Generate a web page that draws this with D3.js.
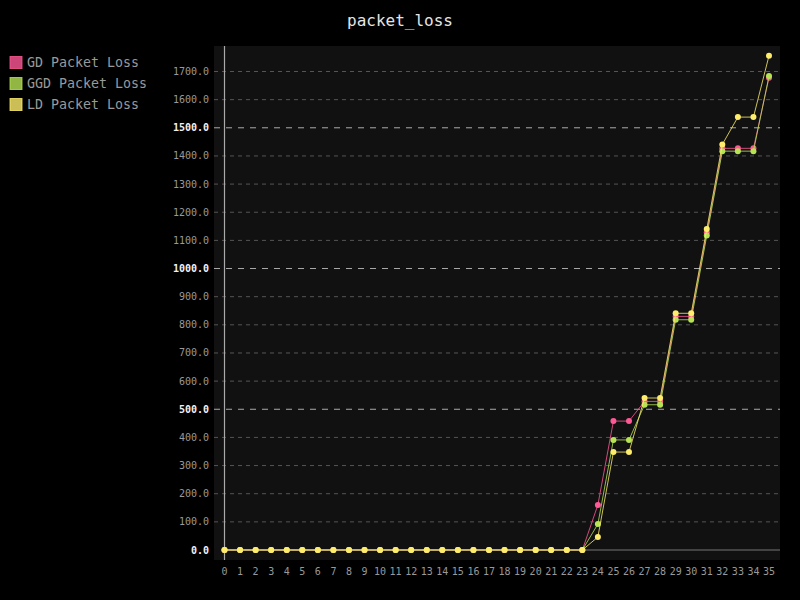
<!DOCTYPE html>
<html><head><meta charset="utf-8">
<script src="https://cdn.jsdelivr.net/npm/d3@7"></script>
<style>
html,body{margin:0;padding:0;background:#000;}
svg{display:block;}
text{font-family:"DejaVu Sans Mono",monospace;}
</style></head>
<body><svg id="c" width="800" height="600"></svg>
<script>
const title = "packet_loss";
const xLabels = d3.range(0, 36).map(String);
const seriesNames = ["GD Packet Loss", "GGD Packet Loss", "LD Packet Loss"];
const colors = ["#ff5995", "#b6e354", "#feed6c"];
const gd  = [0,0,0,0,0,0,0,0,0,0,0,0,0,0,0,0,0,0,0,0,0,0,0,0,160,458,458,528,528,830,830,1128,1427,1427,1427,1678];
const ggd = [0,0,0,0,0,0,0,0,0,0,0,0,0,0,0,0,0,0,0,0,0,0,0,0,92,391,391,516,516,818,818,1117,1417,1417,1417,1684];
const ld  = [0,0,0,0,0,0,0,0,0,0,0,0,0,0,0,0,0,0,0,0,0,0,0,0,46,348,348,540,540,841,841,1140,1441,1538,1538,1756];
const yTicks = d3.range(0, 1800, 100);
const majorTicks = [0, 500, 1000, 1500];
const series = [gd, ggd, ld];

const svg = d3.select("#c");
svg.append("rect").attr("width",800).attr("height",600).attr("fill","#000");
const plot = {l:214, t:46, r:780, b:560};
svg.append("rect").attr("x",plot.l).attr("y",plot.t).attr("width",plot.r-plot.l).attr("height",plot.b-plot.t).attr("fill","#111");

const x = d3.scaleLinear().domain([0,35]).range([224.5, 769]);
const y = d3.scaleLinear().domain([0,1700]).range([550, 71.5]);

svg.append("text").attr("x",400).attr("y",26).attr("text-anchor","middle")
  .attr("font-size",16).attr("fill","#e5e5e5").text(title);

// y guides
const yg = svg.append("g");
yTicks.forEach(t => {
  const major = majorTicks.includes(t);
  if (t !== 0) {
    yg.append("line").attr("x1",plot.l).attr("x2",plot.r).attr("y1",y(t)).attr("y2",y(t))
      .attr("stroke", major ? "#aaa" : "#555")
      .attr("stroke-dasharray", major ? "6,6" : "4,4").attr("stroke-width",1);
  }
  yg.append("text").attr("x",209).attr("y",y(t)+3.5).attr("text-anchor","end")
    .attr("font-size",10).attr("fill", major ? "#f0f0f0" : "#999")
    .attr("font-weight", major ? "bold" : "normal").text(d3.format(".1f")(t));
});
// axes
svg.append("line").attr("x1",x(0)).attr("x2",plot.r).attr("y1",y(0)).attr("y2",y(0)).attr("stroke","#777").attr("stroke-width",1.2);
svg.append("line").attr("x1",x(0)).attr("x2",x(0)).attr("y1",plot.t).attr("y2",plot.b).attr("stroke","#aaa").attr("stroke-width",1.2);

// x labels
xLabels.forEach((lab,i) => {
  svg.append("text").attr("x",x(i)).attr("y",575).attr("text-anchor","middle")
    .attr("font-size",10).attr("fill","#999").text(lab);
});

// series
const line = d3.line().x((d,i)=>x(i)).y(d=>y(d));
series.forEach((s,k) => {
  const g = svg.append("g");
  g.append("path").datum(s).attr("d",line).attr("fill","none")
    .attr("stroke",colors[k]).attr("stroke-width",1).attr("stroke-opacity",0.8);
  g.selectAll("circle").data(s).enter().append("circle")
    .attr("cx",(d,i)=>x(i)).attr("cy",d=>y(d)).attr("r",3).attr("fill",colors[k]);
});

// legend
seriesNames.forEach((n,k) => {
  svg.append("rect").attr("x",10).attr("y",56.5+21*k).attr("width",12).attr("height",12)
    .attr("fill",colors[k]).attr("fill-opacity",0.8).attr("stroke",colors[k]).attr("stroke-opacity",0.8);
  svg.append("text").attr("x",27).attr("y",67+21*k).attr("font-size",13.3).attr("fill","#999").text(n);
});
</script></body></html>
